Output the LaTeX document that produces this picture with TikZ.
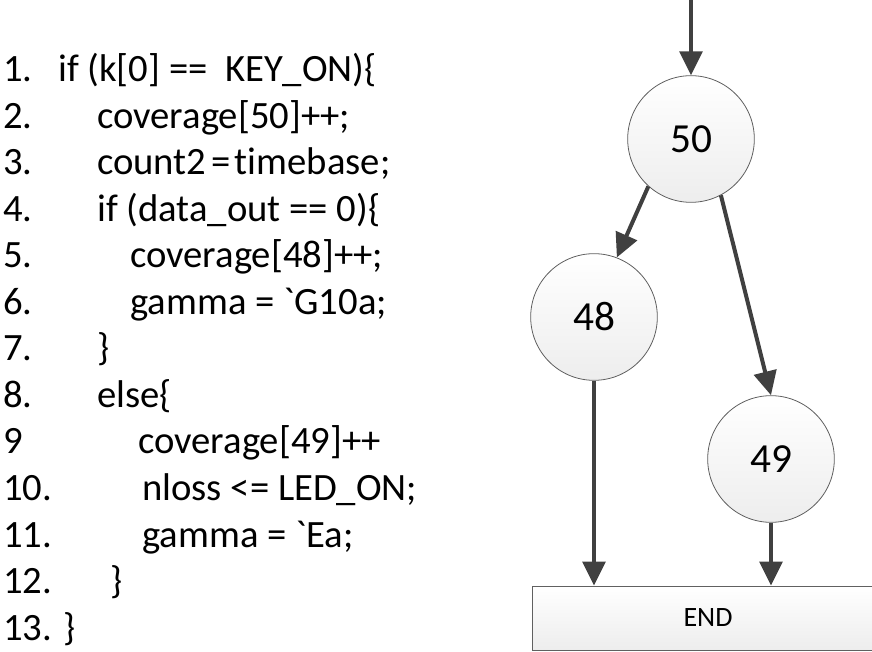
\documentclass[tikz,border=0pt]{standalone}
\usepackage{fontspec}
\setmainfont{Carlito}[Ligatures={NoCommon}]
\usetikzlibrary{arrows.meta}

\definecolor{edgegray}{HTML}{404040}
\definecolor{rimgray}{HTML}{606060}

\begin{document}
\begin{tikzpicture}[x=0.75pt, y=-0.75pt,
    codeline/.style={anchor=base west, inner sep=0pt, font=\fontsize{29}{35}\selectfont},
    block/.style={draw=rimgray, line width=0.6pt, circle, minimum size=95pt, inner sep=0pt,
        top color=white, bottom color=black!7, font=\fontsize{31}{37}\selectfont},
    flow/.style={draw=edgegray, line width=3pt, -{Triangle[length=18pt, width=17pt]}}]
\useasboundingbox (0,0) rectangle (872,652);

				% source lines
				\node[codeline] (n1) at (3,82) {1.};
				\node[codeline] (c1) at (58,82) {if (k[0] == \ KEY\_ON)\{};
				\node[codeline] (n2) at (3,128.5) {2.};
				\node[codeline] (c2) at (97,128.5) {coverage[50]++;};
				\node[codeline] (n3) at (3,175) {3.};
				\node[codeline] (c3) at (97,175) {count2\hspace{0.12em}=\hspace{0.12em}timebase;};
				\node[codeline] (n4) at (3,221.5) {4.};
				\node[codeline] (c4) at (97,221.5) {if (data\_out == 0)\{};
				\node[codeline] (n5) at (3,268) {5.};
				\node[codeline] (c5) at (130,268) {coverage[48]++;};
				\node[codeline] (n6) at (3,314.5) {6.};
				\node[codeline] (c6) at (130,314.5) {gamma = \textasciigrave G10a;};
				\node[codeline] (n7) at (3,361) {7.};
				\node[codeline] (c7) at (97,361) {\}};
				\node[codeline] (n8) at (3,407.5) {8.};
				\node[codeline] (c8) at (97,407.5) {else\{};
				\node[codeline] (n9) at (3,454) {9};
				\node[codeline] (c9) at (138,454) {coverage[49]++};
				\node[codeline] (n10) at (3,500.5) {10.};
				\node[codeline] (c10) at (142,500.5) {nloss <= LED\_ON;};
				\node[codeline] (n11) at (3,547) {11.};
				\node[codeline] (c11) at (142,547) {gamma = \textasciigrave Ea;};
				\node[codeline] (n12) at (3,593.5) {12.};
				\node[codeline] (c12) at (110,593.5) {\}};
				\node[codeline] (n13) at (3,640) {13.\hspace{0.3em}\}};

				% flow graph
				\coordinate (entry) at (691,0);
				\node[block] (b50) at (691,139) {50};
				\node[block] (b48) at (594,317) {48};
				\node[block] (b49) at (771,459) {49};
				\node[draw=rimgray, line width=0.6pt, minimum width=264pt, minimum height=48pt,
					top color=white, bottom color=black!7, font=\fontsize{21}{25}\selectfont]
					(stop) at (708,618) {END};
				\draw[flow] (entry) -- (b50);
				\draw[flow] (b50.228) -- (b48.69);
				\draw[flow] (b50.298) -- (b49.90);
				\draw[flow] (b48.south) -- (stop.north -| b48.south);
				\draw[flow] (b49.south) -- (stop.north -| b49.south);
\end{tikzpicture}
\end{document}
